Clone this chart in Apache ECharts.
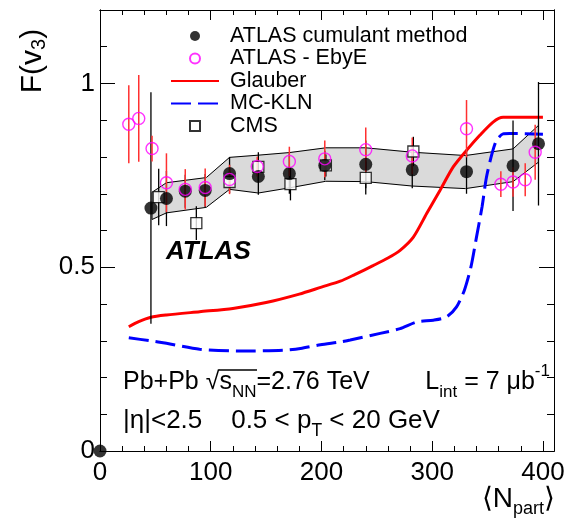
<!DOCTYPE html>
<html><head><meta charset="utf-8">
<script src="https://cdn.jsdelivr.net/npm/echarts@6/dist/echarts.min.js"></script>
<style>html,body{margin:0;padding:0;background:#fff}#c{width:578px;height:525px}</style>
</head><body><div id="c"></div><script>
// ---- data ----
const cumulantN   = [0, 46, 60, 77, 95, 117, 143, 171, 203, 240, 282, 331, 373, 396];
const cumulantF   = [0, 0.661, 0.687, 0.707, 0.709, 0.755, 0.747, 0.755, 0.777, 0.780, 0.765, 0.760, 0.776, 0.836];
const cumulantErr = [0, 0.315, 0.075, 0.045, 0.045, 0.045, 0.05, 0.055, 0.04, 0.065, 0.05, 0.06, 0.123, 0.168];

const ebyeN   = [26, 35, 47, 60, 77, 95, 117, 142, 171, 203, 240, 282, 331, 362, 373, 384, 393];
const ebyeF   = [0.889, 0.905, 0.823, 0.730, 0.712, 0.717, 0.739, 0.774, 0.788, 0.795, 0.820, 0.803, 0.877, 0.726, 0.732, 0.738, 0.813];
const ebyeErr = [0.106, 0.118, 0.035, 0.08, 0.055, 0.052, 0.04, 0.027, 0.04, 0.05, 0.06, 0.05, 0.078, 0.035, 0.04, 0.045, 0.075];

const cmsN   = [53, 87, 117, 143, 172, 204, 240, 283];
const cmsF   = [0.691, 0.620, 0.732, 0.773, 0.726, 0.777, 0.743, 0.815];
const cmsErr = [0.077, 0.046, 0.03, 0.04, 0.044, 0.03, 0.045, 0.04];

const bandN     = [47, 60, 96, 117, 143, 171, 204, 240, 282, 330, 373, 396];
const bandUpper = [0.704, 0.730, 0.744, 0.799, 0.805, 0.812, 0.825, 0.825, 0.813, 0.804, 0.822, 0.886];
const bandLower = [0.630, 0.648, 0.663, 0.712, 0.702, 0.716, 0.734, 0.733, 0.721, 0.714, 0.733, 0.786];

const glauberN = [26, 35, 46, 60, 90, 120, 150, 180, 200, 217, 230, 247, 260, 271, 283, 295, 307, 319, 331, 343, 355, 364, 372, 400];
const glauberF = [0.338, 0.352, 0.364, 0.370, 0.379, 0.388, 0.404, 0.427, 0.446, 0.462, 0.480, 0.505, 0.525, 0.546, 0.582, 0.646, 0.709, 0.773, 0.818, 0.859, 0.895, 0.908, 0.908, 0.908];

const mcklnN = [26, 45, 60, 90, 129, 165, 181, 199, 217, 226, 253, 271, 286, 301, 313, 322, 329, 335, 340, 345, 349, 354, 358, 364, 370, 400];
const mcklnF = [0.308, 0.300, 0.293, 0.277, 0.272, 0.274, 0.279, 0.289, 0.297, 0.302, 0.320, 0.333, 0.351, 0.356, 0.365, 0.392, 0.437, 0.501, 0.582, 0.664, 0.745, 0.809, 0.845, 0.863, 0.864, 0.862];

const seriesNames = ['ATLAS cumulant method', 'ATLAS - EbyE', 'Glauber', 'MC-KLN', 'CMS'];

// ---- chart ----
const FONT = "'Liberation Sans', Arial, Helvetica, sans-serif";
const XMIN = 0, XMAX = 410, YMIN = 0, YMAX = 1.2;

function xAx(pos, interval, len, showLabel) {
  return {
    type: 'value', position: pos, min: XMIN, max: XMAX, interval: interval,
    axisLine: { show: true, onZero: false, lineStyle: { color: '#000', width: 1 } },
    axisTick: { show: true, inside: true, length: len, lineStyle: { color: '#000', width: 1 } },
    axisLabel: { show: showLabel, color: '#000', fontSize: 26, fontFamily: FONT, margin: 9,
      formatter: v => (v > 400 ? '' : String(v)) },
    splitLine: { show: false }
  };
}
function yAx(pos, interval, len, showLabel) {
  return {
    type: 'value', position: pos, min: YMIN, max: YMAX, interval: interval,
    axisLine: { show: true, onZero: false, lineStyle: { color: '#000', width: 1 } },
    axisTick: { show: true, inside: true, length: len, lineStyle: { color: '#000', width: 1 } },
    axisLabel: { show: showLabel, color: '#000', fontSize: 26, fontFamily: FONT, margin: 5,
      formatter: v => (v > 1.05 ? '' : String(+v.toFixed(2))) },
    splitLine: { show: false }
  };
}

function errSeries(xs, ys, es, color, width) {
  return {
    type: 'custom', xAxisIndex: 0, yAxisIndex: 0, z: 3, silent: true,
    data: xs.map((x, i) => [x, ys[i] - es[i], ys[i] + es[i]]),
    encode: { x: 0, y: [1, 2] },
    renderItem: (params, api) => {
      const a = api.coord([api.value(0), api.value(1)]);
      const b = api.coord([api.value(0), api.value(2)]);
      return { type: 'line', shape: { x1: a[0], y1: a[1], x2: b[0], y2: b[1] },
        style: { stroke: color, lineWidth: width } };
    }
  };
}

const bandSeries = {
  type: 'custom', xAxisIndex: 0, yAxisIndex: 0, z: 1, silent: true,
  data: bandN.map((n, i) => [n, bandLower[i], bandUpper[i]]),
  encode: { x: 0, y: [1, 2] },
  renderItem: (params, api) => {
    const i = params.dataIndex;
    const children = [];
    const lo = api.coord([api.value(0), api.value(1)]);
    const hi = api.coord([api.value(0), api.value(2)]);
    if (i < bandN.length - 1) {
      const lo2 = api.coord([bandN[i + 1], bandLower[i + 1]]);
      const hi2 = api.coord([bandN[i + 1], bandUpper[i + 1]]);
      children.push({ type: 'polygon', shape: { points: [lo, hi, hi2, lo2] },
        style: { fill: '#dadada', stroke: '#dadada', lineWidth: 0.6 } });
      children.push({ type: 'line', shape: { x1: hi[0], y1: hi[1], x2: hi2[0], y2: hi2[1] },
        style: { stroke: '#000', lineWidth: 1 } });
      children.push({ type: 'line', shape: { x1: lo[0], y1: lo[1], x2: lo2[0], y2: lo2[1] },
        style: { stroke: '#000', lineWidth: 1 } });
    }
    if (i === 0 || i === bandN.length - 1) {
      children.push({ type: 'line', shape: { x1: lo[0], y1: lo[1], x2: hi[0], y2: hi[1] },
        style: { stroke: '#000', lineWidth: 1 } });
    }
    return { type: 'group', children: children };
  }
};

const chart = echarts.init(document.getElementById('c'), null, { renderer: 'canvas' });
chart.setOption({
  animation: false,
  backgroundColor: '#fff',
  textStyle: { fontFamily: FONT },
  grid: { left: 100, right: 24, top: 10, bottom: 74, containLabel: false },
  xAxis: [xAx('bottom', 20, 5, false), xAx('bottom', 100, 10, true), xAx('top', 20, 5, false), xAx('top', 100, 10, false)],
  yAxis: [yAx('left', 0.1, 7, false), yAx('left', 0.5, 15, true), yAx('right', 0.1, 7, false), yAx('right', 0.5, 15, false)],
  legend: {
    orient: 'vertical', left: 165, top: 20, itemWidth: 48, itemHeight: 10, itemGap: 0.5,
    textStyle: { fontSize: 21.5, fontFamily: FONT, color: '#000', padding: [0, 0, 0, 6] },
    data: [
      { name: seriesNames[0] },
      { name: seriesNames[1] },
      { name: seriesNames[2], itemStyle: { opacity: 0 } },
      { name: seriesNames[3], itemStyle: { opacity: 0 } },
      { name: seriesNames[4], icon: 'path://M0,0H10V10H0Z' }
    ]
  },
  series: [
    bandSeries,
    { name: seriesNames[2], type: 'line', z: 2, symbol: 'none', smooth: 0.25,
      data: glauberN.map((n, i) => [n, glauberF[i]]),
      lineStyle: { color: '#ff0000', width: 3 }, itemStyle: { color: '#ff0000' } },
    { name: seriesNames[3], type: 'line', z: 2, symbol: 'none', smooth: 0.25,
      data: mcklnN.map((n, i) => [n, mcklnF[i]]),
      lineStyle: { color: '#0000ff', width: 3, type: [20, 7] }, itemStyle: { color: '#0000ff' } },
    errSeries(cmsN, cmsF, cmsErr, '#000', 1.3),
    errSeries(cumulantN, cumulantF, cumulantErr, '#000', 1.3),
    errSeries(ebyeN, ebyeF, ebyeErr, '#ff3030', 1.5),
    { name: seriesNames[4], type: 'scatter', z: 4, symbol: 'rect', symbolSize: 11,
      data: cmsN.map((n, i) => [n, cmsF[i]]),
      itemStyle: { color: '#fff', borderColor: '#000', borderWidth: 1.3 } },
    { name: seriesNames[0], type: 'scatter', z: 5, symbol: 'circle', symbolSize: 13,
      data: cumulantN.map((n, i) => [n, cumulantF[i]]),
      itemStyle: { color: '#000' } },
    { name: seriesNames[1], type: 'scatter', z: 6, symbol: 'circle', symbolSize: 12,
      data: ebyeN.map((n, i) => [n, ebyeF[i]]),
      itemStyle: { color: 'rgba(0,0,0,0)', borderColor: '#ff00ff', borderWidth: 1.4 } }
  ],
  graphic: [
    { type: 'text', z: 10, x: 33, y: 61, rotation: Math.PI / 2,
      style: { text: '{a|F(v}{s|3}{a|)}', align: 'center', verticalAlign: 'middle',
        rich: { a: { fontSize: 30, fontFamily: FONT, fill: '#000', lineHeight: 32, verticalAlign: 'middle' },
                s: { fontSize: 20, fontFamily: FONT, fill: '#000', lineHeight: 26, verticalAlign: 'bottom' } } } },
    { type: 'text', z: 10, x: 555, y: 480,
      style: { text: '{a|\u27E8N}{s|part}{a|\u27E9}', align: 'right', verticalAlign: 'top',
        rich: { a: { fontSize: 28, fontFamily: FONT, fill: '#000', lineHeight: 38, verticalAlign: 'middle' },
                s: { fontSize: 18, fontFamily: FONT, fill: '#000', lineHeight: 24, verticalAlign: 'bottom' } } } },
    { type: 'text', z: 10, x: 166, y: 252,
      style: { text: 'ATLAS', font: "italic bold 26px " + FONT, fill: '#000', verticalAlign: 'middle' } },
    { type: 'text', z: 10, x: 123, y: 363,
      style: { text: '{t|Pb+Pb \u221A}{t|s}{b|NN}{t|=2.76 TeV        L}{b|int}{t| = 7 \u03BCb}{p|-1}', verticalAlign: 'top',
        rich: { t: { fontSize: 25, fontFamily: FONT, fill: '#000', lineHeight: 38, verticalAlign: 'middle' },
                b: { fontSize: 17, fontFamily: FONT, fill: '#000', lineHeight: 23, verticalAlign: 'bottom' },
                p: { fontSize: 17, fontFamily: FONT, fill: '#000', lineHeight: 15, verticalAlign: 'top' } } } },
    { type: 'line', z: 10, shape: { x1: 219, y1: 370, x2: 257, y2: 370 }, style: { stroke: '#000', lineWidth: 1.3 } },
    { type: 'text', z: 10, x: 123, y: 402,
      style: { text: '{t||\u03B7|<2.5    0.5 < p}{b|T}{t| < 20 GeV}', verticalAlign: 'top',
        rich: { t: { fontSize: 26, fontFamily: FONT, fill: '#000', lineHeight: 38, verticalAlign: 'middle' },
                b: { fontSize: 17.5, fontFamily: FONT, fill: '#000', lineHeight: 23, verticalAlign: 'bottom' } } } }
  ]
});
</script></body></html>
